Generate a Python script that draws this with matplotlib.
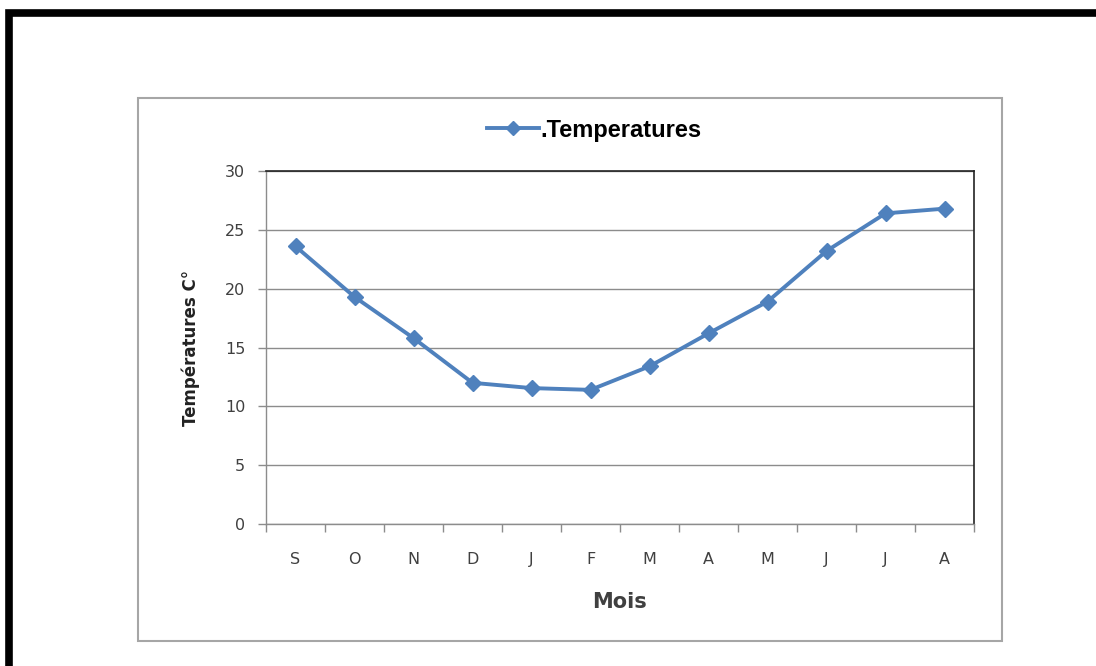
import matplotlib
matplotlib.use("Agg")
import matplotlib.pyplot as plt
from matplotlib.patches import Rectangle
from matplotlib.lines import Line2D

plt.rcParams["font.family"] = ["DejaVu Sans"]

months = ["S", "O", "N", "D", "J", "F", "M", "A", "M", "J", "J", "A"]
temperatures = [23.6, 19.3, 15.8, 12.0, 11.55, 11.4, 13.4, 16.2, 18.9, 23.2, 26.4, 26.8]
yticks = [0, 5, 10, 15, 20, 25, 30]

W, H = 1096, 666
fig = plt.figure(figsize=(W / 100, H / 100), dpi=100)

def fx(px):
    return px / W

def fy(py):
    return 1 - py / H

# outer thick black frame (extends beyond right and bottom)
fig.add_artist(Rectangle((fx(9), fy(700)), fx(1200), fy(13.5) - fy(700),
                         transform=fig.transFigure, fill=False,
                         edgecolor="black", linewidth=5.5))
# chart-area box
fig.add_artist(Rectangle((fx(138), fy(641)), fx(1002) - fx(138), fy(98) - fy(641),
                         transform=fig.transFigure, fill=False,
                         edgecolor="#a6a6a6", linewidth=1.5))

ax = fig.add_axes([fx(266), fy(524), fx(974) - fx(266), fy(171) - fy(524)])
x = list(range(len(months)))
line_color = "#4f81bd"
ax.plot(x, temperatures, color=line_color, linewidth=2.8, marker="D",
        markersize=8, markerfacecolor=line_color, markeredgecolor=line_color)

ax.set_xlim(-0.5, len(months) - 0.5)
ax.set_ylim(0, 30)
ax.set_yticks(yticks)
ax.set_xticks(x)
ax.set_xticklabels(months)
ax.set_xticks([i - 0.5 for i in range(len(months) + 1)], minor=True)
ax.tick_params(axis="x", which="major", length=0, pad=20, labelsize=11.5, colors="#404040")
ax.tick_params(axis="x", which="minor", length=6, color="#8c8c8c", width=1)
ax.tick_params(axis="y", which="major", length=6, color="#8c8c8c", width=1,
               pad=9, labelsize=11.5, labelcolor="#404040")
ax.yaxis.grid(True, color="#8c8c8c", linewidth=1)
ax.set_axisbelow(True)
for s in ["top", "right"]:
    ax.spines[s].set_color("#222222")
    ax.spines[s].set_linewidth(1.2)
for s in ["left", "bottom"]:
    ax.spines[s].set_color("#8c8c8c")
    ax.spines[s].set_linewidth(1)

ax.set_xlabel("Mois", fontsize=15, fontweight="bold", color="#404040", labelpad=18)
ax.set_ylabel("Températures C°", fontsize=12, fontweight="bold", color="#222222", labelpad=18)

handle = Line2D([], [], color=line_color, linewidth=2.8, marker="D", markersize=7)
fig.legend([handle], [".Temperatures"], loc="center", bbox_to_anchor=(fx(594), fy(130)),
           frameon=False, handlelength=2.2, handletextpad=0.05,
           prop={"family": "Liberation Sans", "weight": "bold", "size": 17})

fig.savefig("out.png", dpi=100)
